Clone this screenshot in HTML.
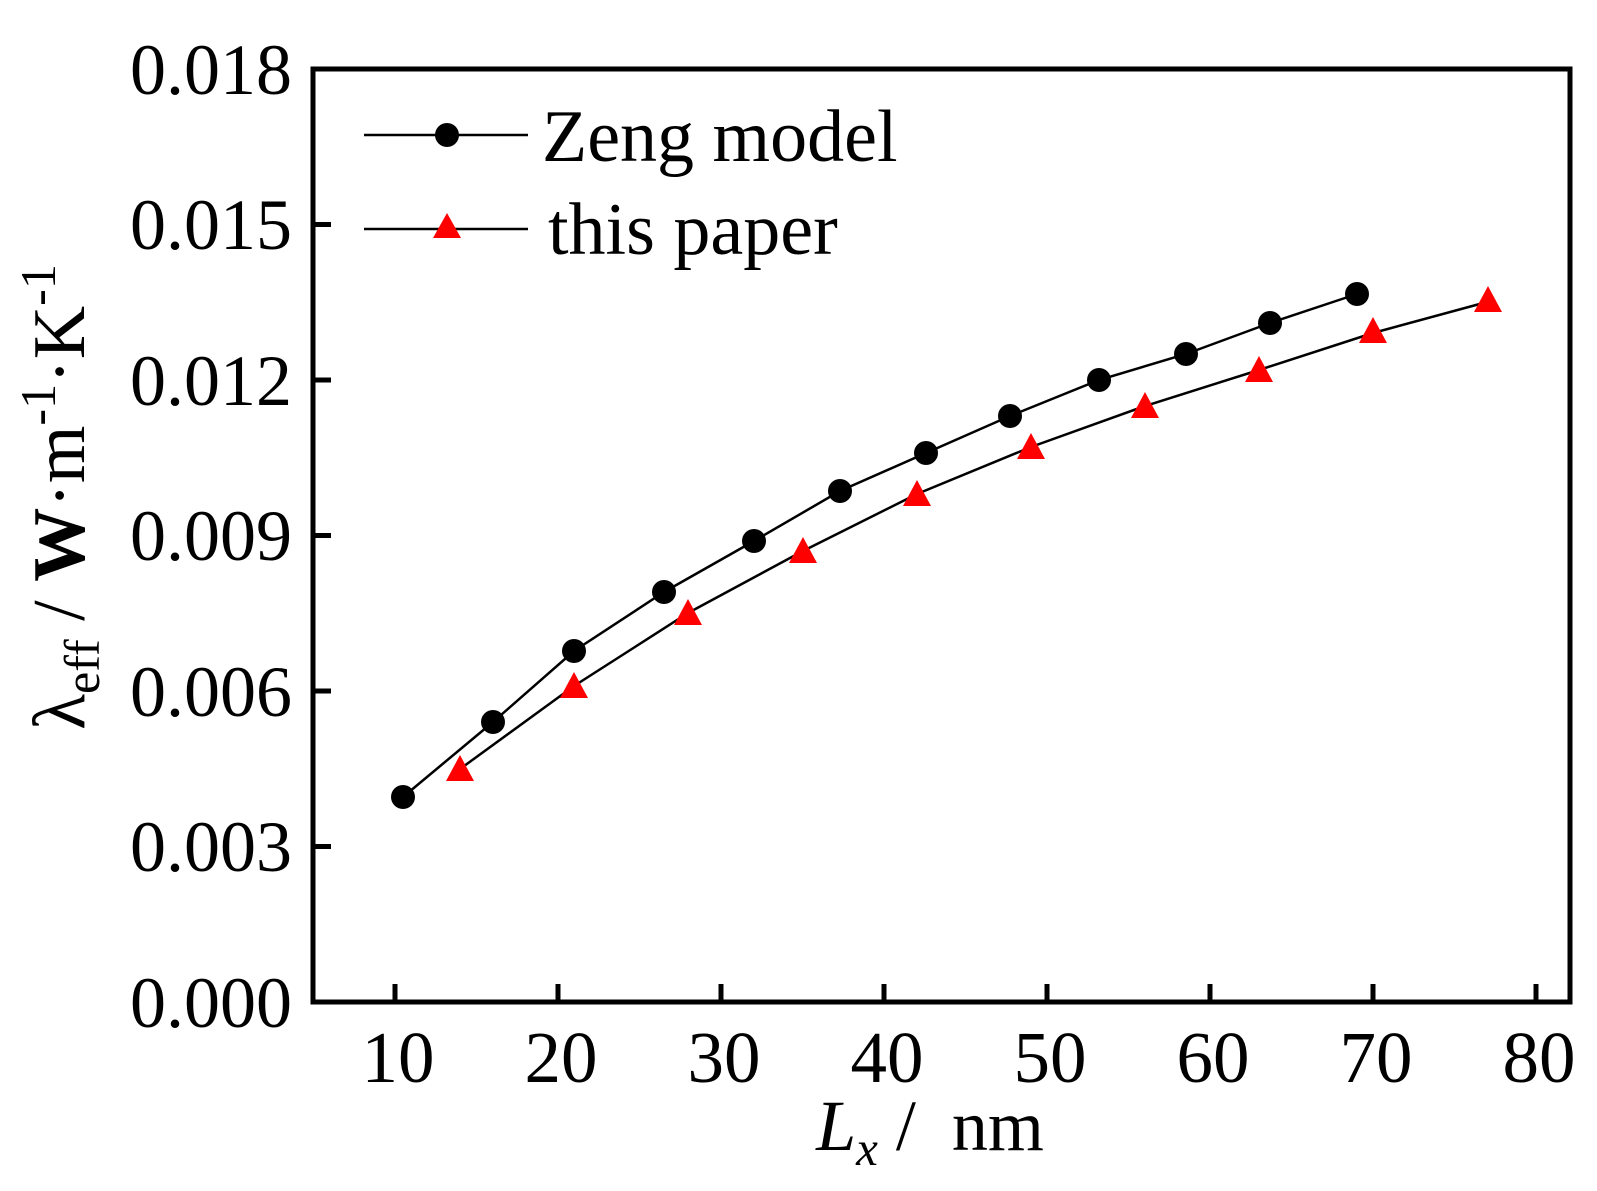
<!DOCTYPE html>
<html><head><meta charset="utf-8"><style>
html,body{margin:0;padding:0;background:#fff;}
svg{display:block;}
text{font-family:"Liberation Serif",serif;fill:#000;}
</style></head><body>
<svg width="1597" height="1191" viewBox="0 0 1597 1191" xmlns="http://www.w3.org/2000/svg">
<rect x="0" y="0" width="1597" height="1191" fill="#fff"/>
<rect x="313" y="69" width="1257" height="933" fill="none" stroke="#000" stroke-width="5"/>
<g stroke="#000" stroke-width="5">
<line x1="313" y1="846.5" x2="331" y2="846.5"/>
<line x1="313" y1="691" x2="331" y2="691"/>
<line x1="313" y1="535.5" x2="331" y2="535.5"/>
<line x1="313" y1="380" x2="331" y2="380"/>
<line x1="313" y1="224.5" x2="331" y2="224.5"/>
<line x1="395" y1="1002" x2="395" y2="984"/>
<line x1="558" y1="1002" x2="558" y2="984"/>
<line x1="721" y1="1002" x2="721" y2="984"/>
<line x1="884" y1="1002" x2="884" y2="984"/>
<line x1="1047" y1="1002" x2="1047" y2="984"/>
<line x1="1210" y1="1002" x2="1210" y2="984"/>
<line x1="1373" y1="1002" x2="1373" y2="984"/>
<line x1="1536" y1="1002" x2="1536" y2="984"/>
</g>
<g font-size="72" text-anchor="end">
<text x="292" y="1027">0.000</text>
<text x="292" y="871">0.003</text>
<text x="292" y="716">0.006</text>
<text x="292" y="560">0.009</text>
<text x="292" y="405">0.012</text>
<text x="292" y="249">0.015</text>
<text x="292" y="94">0.018</text>
</g>
<g font-size="73" text-anchor="middle">
<text x="398" y="1082">10</text>
<text x="561" y="1082">20</text>
<text x="724" y="1082">30</text>
<text x="887" y="1082">40</text>
<text x="1050" y="1082">50</text>
<text x="1213" y="1082">60</text>
<text x="1376" y="1082">70</text>
<text x="1539" y="1082">80</text>
</g>
<text x="930" y="1150" font-size="72" text-anchor="middle" xml:space="preserve"><tspan font-style="italic">L</tspan><tspan font-style="italic" font-size="49" dy="15">x</tspan><tspan dy="-15"> /  nm</tspan></text>
<text transform="translate(84,497) rotate(-90)" font-size="74" text-anchor="middle">λ<tspan font-size="50" dy="15">eff</tspan><tspan dy="-15"> / </tspan><tspan font-weight="bold">W</tspan>·m<tspan font-size="50" dy="-29">-1</tspan><tspan dy="29">·K</tspan><tspan font-size="50" dy="-29">-1</tspan></text>
<polyline fill="none" stroke="#000" stroke-width="2.5" points="403,797 493,722 574,651 664,592 754,541 840,491 926,453 1010,416 1099,380 1186,354 1270,323 1357,294"/>
<polyline fill="none" stroke="#000" stroke-width="2.5" points="460,769 574,686 688,613 803,551 917,494 1031,447 1145,406 1259,370 1373,333 1487,302"/>
<g fill="#000">
<circle cx="403" cy="797" r="12"/><circle cx="493" cy="722" r="12"/><circle cx="574" cy="651" r="12"/><circle cx="664" cy="592" r="12"/><circle cx="754" cy="541" r="12"/><circle cx="840" cy="491" r="12"/><circle cx="926" cy="453" r="12"/><circle cx="1010" cy="416" r="12"/><circle cx="1099" cy="380" r="12"/><circle cx="1186" cy="354" r="12"/><circle cx="1270" cy="323" r="12"/><circle cx="1357" cy="294" r="12"/>
</g>
<g fill="#f00">
<polygon points="460,755 446,781 474,781"/>
<polygon points="574,672 560,698 588,698"/>
<polygon points="688,599 674,625 702,625"/>
<polygon points="803,537 789,563 817,563"/>
<polygon points="917,480 903,506 931,506"/>
<polygon points="1031,433 1017,459 1045,459"/>
<polygon points="1145,392 1131,418 1159,418"/>
<polygon points="1259,356 1245,382 1273,382"/>
<polygon points="1373,317 1359,343 1387,343"/>
<polygon points="1488,286 1474,312 1502,312"/>
</g>
<line x1="364" y1="135" x2="528" y2="135" stroke="#000" stroke-width="2.5"/>
<circle cx="447" cy="135" r="12" fill="#000"/>
<line x1="364" y1="229" x2="528" y2="229" stroke="#000" stroke-width="2.5"/>
<polygon points="447,213 433,238 461,238" fill="#f00"/>
<text x="542" y="161" font-size="74">Zeng model</text>
<text x="548" y="254" font-size="74">this paper</text>
</svg>
</body></html>
